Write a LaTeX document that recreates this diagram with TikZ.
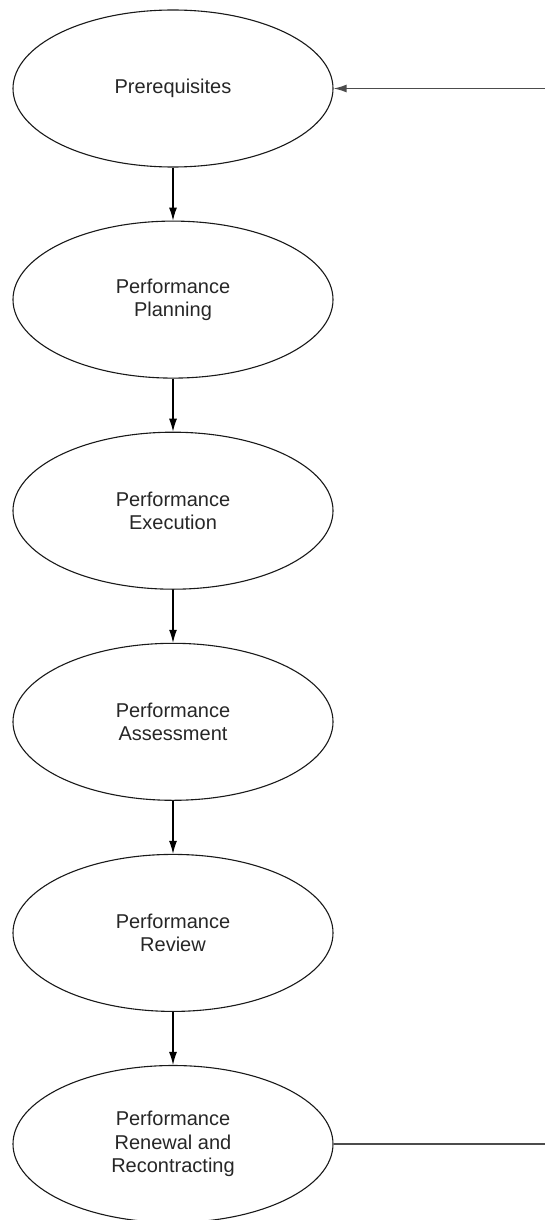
\documentclass[tikz,border=0pt]{standalone}
\usepackage{fontspec}
\setmainfont{Liberation Sans}
\usetikzlibrary{positioning,shapes.geometric,arrows.meta}

\begin{document}
\begin{tikzpicture}[
		phase/.style={ellipse, draw=black!90, line width=1.1pt, minimum width=320pt, minimum height=157pt, inner sep=0pt, align=center, text=black!85, font=\fontsize{20}{23.5}\selectfont},
		loop/.style={draw=black!70, line width=1.5pt},
		node distance=53pt
	]
	\useasboundingbox (0,0) rectangle (545pt,-1220pt);
	\node[phase] (prereq) at (173pt,-88.5pt) {Prerequisites};
	\node[phase] (planning) [below=of prereq] {Performance\\Planning};
	\node[phase] (execution) [below=of planning] {Performance\\Execution};
	\node[phase] (assessment) [below=of execution] {Performance\\Assessment};
	\node[phase] (review) [below=of assessment] {Performance\\Review};
	\node[phase] (renewal) [below=of review] {Performance\\Renewal and\\Recontracting};
	\coordinate[right=212pt of prereq.east] (loopin);
	\coordinate[right=212pt of renewal.east] (loopout);
	\begin{scope}[line width=1.1pt, -{Latex[length=13pt,width=8pt]}]
	\draw (prereq.south) -- (planning.north);
	\draw (planning.south) -- (execution.north);
	\draw (execution.south) -- (assessment.north);
	\draw (assessment.south) -- (review.north);
	\draw (review.south) -- (renewal.north);
	\draw[loop] (loopin) -- (prereq.east);
	\end{scope}
	\draw[loop] (renewal.east) -- (loopout);
\end{tikzpicture}
\end{document}
